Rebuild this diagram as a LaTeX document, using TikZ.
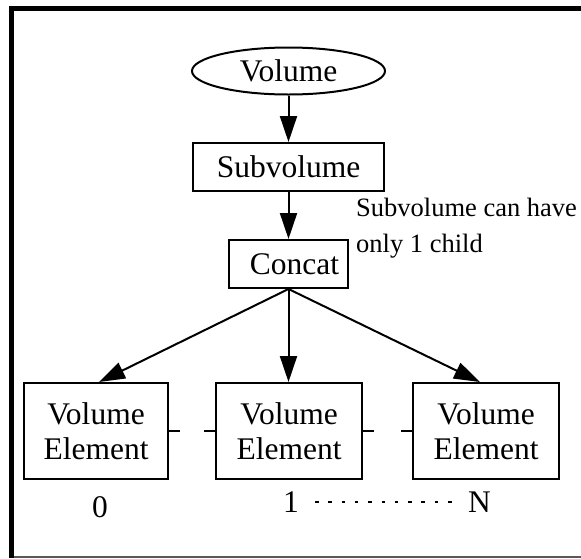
\documentclass[tikz,border=0pt]{standalone}
\usepackage{fontspec}
\setmainfont{Liberation Serif}
\usetikzlibrary{arrows.meta,shapes.geometric}
\begin{document}
\begin{tikzpicture}[x=1pt,y=-1pt,
  every node/.style={inner sep=0pt},
  big/.style={font=\fontsize{31.5}{35}\selectfont},
  boxnode/.style={draw, line width=2pt, big, align=center},
  flow/.style={line width=2pt, -{Triangle[length=26pt,width=17pt]}},
  link/.style={line width=2pt, dash pattern=on 11pt off #1},
  indexline/.style={line width=2pt, dash pattern=on 3.5pt off 9.8pt}]
\useasboundingbox (0,0) rectangle (581,558);
% outer frame
\draw[line width=5pt] (11.5,558) -- (11.5,8) -- (581,8);
\draw[black!65, line width=1.2pt] (14,557) -- (581,557);
% nodes
\node[draw, ellipse, line width=2pt, big, minimum width=193pt, minimum height=47pt] (vol) at (288.5,71) {Volume};
\node[boxnode, minimum width=191pt, minimum height=48pt] (sub) at (288.5,167) {Subvolume};
\node[boxnode, minimum width=119pt, minimum height=48pt] (cat) at (288.5,264) {\hspace*{12pt}Concat};
\node[anchor=north west, font=\fontsize{26.5}{36}\selectfont, align=left] (note) at (356,198) {Subvolume can have\\only 1 child};
\node[boxnode, minimum width=144pt, minimum height=96pt] (e0) at (96,431) {Volume\\Element};
\node[boxnode, minimum width=146pt, minimum height=96pt] (e1) at (289,431) {Volume\\Element};
\node[boxnode, minimum width=146pt, minimum height=96pt] (eN) at (486,431) {Volume\\Element};
\node[big] (l0) at (100,507) {0};
\node[big] (l1) at (291,502) {1};
\node[big] (lN) at (479.5,502) {N};
% connectors
\draw[flow] (vol.south) -- (vol.south |- sub.north);
\draw[flow] (sub.south) -- (sub.south |- cat.north);
\draw[flow] (cat.south) -- ([xshift=3pt]e0.north);
\draw[flow] (cat.south) -- (cat.south |- e1.north);
\draw[flow] (cat.south) -- ([xshift=-6pt]eN.north);
\draw[link=24pt] (e0.east) -- (e1.west);
\draw[link=27pt] (e1.east) -- (eN.west);
\draw[indexline, shorten <=16pt, shorten >=12pt] (l1.east) -- (lN.west);
\end{tikzpicture}
\end{document}
